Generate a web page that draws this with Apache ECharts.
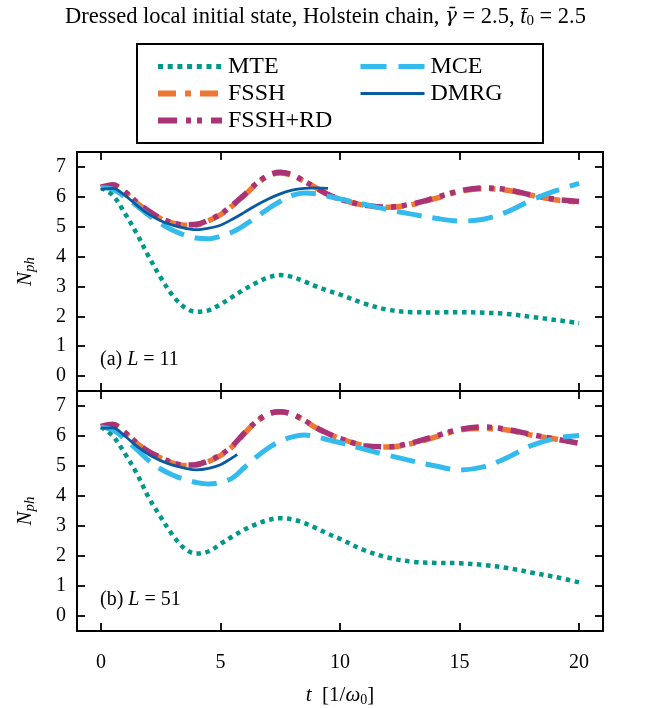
<!DOCTYPE html>
<html><head><meta charset="utf-8">
<script src="https://cdn.jsdelivr.net/npm/echarts@6/dist/echarts.min.js"></script>
<style>html,body{margin:0;padding:0;background:#fff}#c{width:646px;height:708px}</style>
</head><body><div id="c"></div><script>
// ---------- data ----------
const seriesNames = ['MTE', 'FSSH', 'FSSH+RD', 'MCE', 'DMRG'];
const xTickValues = [0, 5, 10, 15, 20];
const yTickValues = [0, 1, 2, 3, 4, 5, 6, 7];
const tFull = [0,0.5,1,1.5,2,2.5,3,3.5,4,4.5,5,5.5,6,6.5,7,7.5,8,8.5,9,9.5,10,11,12,13,14,15,16,17,18,19,20];
const tDmrgA = [0,0.5,1,1.5,2,2.5,3,3.5,4,4.5,5,5.5,6,6.5,7,7.5,8,8.5,9,9.5];
const tDmrgB = [0,0.5,1,1.5,2,2.5,3,3.5,4,4.5,5,5.5,5.7];

// panel (a) L = 11
const mteA    = [6.3,6.05,5.45,4.77,4.0,3.3,2.7,2.3,2.15,2.2,2.4,2.65,2.9,3.12,3.3,3.38,3.32,3.17,3.0,2.86,2.73,2.43,2.22,2.14,2.13,2.14,2.12,2.08,1.98,1.88,1.77];
const fsshA   = [6.3,6.37,6.15,5.8,5.5,5.27,5.12,5.05,5.06,5.2,5.4,5.7,6.05,6.42,6.7,6.8,6.72,6.52,6.3,6.08,5.92,5.72,5.65,5.74,5.95,6.18,6.27,6.22,6.05,5.9,5.82];
const fsshRdA = [6.32,6.4,6.17,5.82,5.52,5.28,5.13,5.06,5.08,5.22,5.42,5.72,6.07,6.44,6.72,6.82,6.74,6.53,6.3,6.08,5.92,5.72,5.66,5.76,5.97,6.2,6.3,6.24,6.06,5.92,5.84];
const mceA    = [6.3,6.25,6.0,5.7,5.38,5.1,4.88,4.72,4.62,4.6,4.68,4.82,5.05,5.32,5.6,5.85,6.05,6.13,6.1,6.02,5.93,5.75,5.57,5.42,5.28,5.19,5.25,5.5,5.89,6.2,6.45];
const dmrgA   = [6.25,6.28,6.05,5.72,5.42,5.2,5.05,4.95,4.9,4.95,5.05,5.25,5.48,5.72,5.93,6.1,6.22,6.28,6.3,6.28];

// panel (b) L = 51
const mteB    = [6.3,6.0,5.42,4.75,3.95,3.3,2.7,2.25,2.08,2.15,2.4,2.65,2.88,3.06,3.2,3.26,3.22,3.1,2.93,2.74,2.57,2.2,1.95,1.81,1.77,1.76,1.7,1.6,1.45,1.3,1.12];
const fsshB   = [6.3,6.37,6.1,5.75,5.47,5.27,5.1,5.02,5.03,5.15,5.35,5.65,6.08,6.47,6.73,6.8,6.72,6.52,6.27,6.08,5.92,5.68,5.63,5.75,5.97,6.2,6.25,6.2,6.03,5.9,5.78];
const fsshRdB = [6.32,6.39,6.12,5.77,5.48,5.28,5.11,5.03,5.05,5.17,5.37,5.67,6.1,6.48,6.74,6.81,6.73,6.53,6.28,6.08,5.92,5.68,5.64,5.77,6.0,6.22,6.3,6.22,6.05,5.9,5.76];
const mceB    = [6.3,6.2,5.9,5.55,5.18,4.9,4.7,4.55,4.45,4.4,4.45,4.6,4.95,5.3,5.6,5.83,5.97,6.03,5.98,5.87,5.78,5.56,5.36,5.17,5.0,4.87,4.97,5.28,5.68,5.92,6.02];
const dmrgB   = [6.26,6.27,6.0,5.66,5.38,5.18,5.03,4.93,4.87,4.92,5.04,5.28,5.39];

// ---------- styles ----------
const FONT = 'Liberation Serif';
const colors = {MTE:'#009988', FSSH:'#EE7733', 'FSSH+RD':'#AA3377', MCE:'#33BBEE', DMRG:'#0a5aa0'};
const lineStyles = {
  MTE: {width:4.5, type:[4.5,4.5], cap:'butt'},
  FSSH: {width:5.5, type:[18,8,6,8], cap:'butt'},
  'FSSH+RD': {width:5.5, type:[18,8,5,6,5,8], cap:'butt'},
  MCE: {width:5, type:[25,11], cap:'butt'},
  DMRG: {width:2.8, type:'solid'}
};
const legendLineStyles = {
  MTE: {width:5, type:[5,4.7], cap:'butt'},
  FSSH: {width:6, type:[18,9,6,9], cap:'butt'},
  'FSSH+RD': {width:6, type:[19,9,5,6,5,9], cap:'butt'},
  MCE: {width:5, type:[26,12], cap:'butt'},
  DMRG: {width:2.8, type:'solid'}
};

function pairs(ts, vs) { return ts.map((t, i) => [t, vs[i]]); }

const panelData = [
  {MTE: pairs(tFull, mteA), FSSH: pairs(tFull, fsshA), 'FSSH+RD': pairs(tFull, fsshRdA), MCE: pairs(tFull, mceA), DMRG: pairs(tDmrgA, dmrgA)},
  {MTE: pairs(tFull, mteB), FSSH: pairs(tFull, fsshB), 'FSSH+RD': pairs(tFull, fsshRdB), MCE: pairs(tFull, mceB), DMRG: pairs(tDmrgB, dmrgB)}
];

const grids = [
  {left: 77, top: 152, width: 526, height: 239},
  {left: 77, top: 391, width: 526, height: 241}
].map(g => Object.assign(g, {show: true, borderColor: '#000', borderWidth: 2, containLabel: false}));

const tickCommon = {show: true, inside: true, length: 8, lineStyle: {color: '#000', width: 1.8}};

const xAxes = [];
const yAxes = [];
[0, 1].forEach(gi => {
  ['bottom', 'top'].forEach(pos => {
    const showLabel = (gi === 1 && pos === 'bottom');
    const ax = {
      type: 'value', gridIndex: gi, position: pos, min: -1, max: 21,
      axisLine: {show: false, onZero: false}, splitLine: {show: false},
      axisTick: Object.assign({customValues: xTickValues}, tickCommon),
      axisLabel: {show: showLabel, customValues: xTickValues, margin: 22, fontFamily: FONT, fontSize: 20, color: '#000'}
    };
    if (showLabel) {
      ax.name = '{i|t}{r|  [1/}{i|ω}{s|0}{r|]}';
      ax.nameLocation = 'middle';
      ax.nameGap = 52;
      ax.nameTextStyle = {rich: {
        i: {fontFamily: FONT, fontStyle: 'italic', fontSize: 21, color: '#000'},
        r: {fontFamily: FONT, fontSize: 21, color: '#000'},
        s: {fontFamily: FONT, fontSize: 14, color: '#000', padding: [10, 0, 0, 0]}
      }};
    }
    xAxes.push(ax);
  });
  ['left', 'right'].forEach(pos => {
    const showLabel = pos === 'left';
    const ax = {
      type: 'value', gridIndex: gi, position: pos, min: -0.5, max: 7.5,
      axisLine: {show: false, onZero: false}, splitLine: {show: false},
      axisTick: Object.assign({customValues: yTickValues}, tickCommon),
      axisLabel: {show: showLabel, customValues: yTickValues, margin: 11, fontFamily: FONT, fontSize: 20, color: '#000'}
    };
    if (showLabel) {
      ax.name = '{i|N}{s|ph}';
      ax.nameLocation = 'middle';
      ax.nameGap = 39;
      ax.nameTextStyle = {rich: {
        i: {fontFamily: FONT, fontStyle: 'italic', fontSize: 21, color: '#000'},
        s: {fontFamily: FONT, fontStyle: 'italic', fontSize: 15, color: '#000', padding: [10, 0, 0, 0]}
      }};
    }
    yAxes.push(ax);
  });
});

const series = [];
[0, 1].forEach(gi => {
  seriesNames.forEach(name => {
    series.push({
      name: name, type: 'line', xAxisIndex: gi * 2, yAxisIndex: gi * 2,
      data: panelData[gi][name], smooth: 0.35, symbol: 'none', showSymbol: false,
      color: colors[name],
      lineStyle: Object.assign({color: colors[name]}, lineStyles[name]),
      animation: false, silent: true
    });
  });
});

function legendItems(names) {
  return names.map(n => ({name: n, itemStyle: {opacity: 0}, lineStyle: Object.assign({color: colors[n]}, legendLineStyles[n])}));
}
const legendText = {fontFamily: FONT, fontSize: 24, color: '#000', lineHeight: 27, padding: [0, 0, 0, 1]};
const option = {
  backgroundColor: '#fff',
  animation: false,
  title: {
    text: '{r|Dressed local initial state, Holstein chain, }{g|γ̄}{r| = 2.5, }{i|t̄}{s|0}{r| = 2.5}',
    left: 60, top: 0,
    textStyle: {rich: {
      r: {fontFamily: FONT, fontWeight: 'normal', fontSize: 22.5, color: '#000'},
      g: {fontFamily: 'DejaVu Serif', fontStyle: 'italic', fontWeight: 'normal', fontSize: 20, color: '#000'},
      i: {fontFamily: FONT, fontStyle: 'italic', fontWeight: 'normal', fontSize: 22.5, color: '#000'},
      s: {fontFamily: FONT, fontWeight: 'normal', fontSize: 15, color: '#000', padding: [9, 0, 0, 0]}
    }}
  },
  legend: [
    {data: legendItems(['MTE', 'FSSH', 'FSSH+RD']), orient: 'vertical', left: 150, top: 48, itemWidth: 64, itemHeight: 14, itemGap: 0, textStyle: legendText, selectedMode: false},
    {data: legendItems(['MCE', 'DMRG']), orient: 'vertical', left: 353, top: 48, itemWidth: 64, itemHeight: 14, itemGap: 0, textStyle: legendText, selectedMode: false}
  ],
  grid: grids,
  xAxis: xAxes,
  yAxis: yAxes,
  series: series,
  graphic: [
    {type: 'rect', shape: {x: 137, y: 44, width: 406, height: 99}, style: {fill: 'none', stroke: '#000', lineWidth: 2}, z: 10},
    {type: 'text', x: 100, y: 360, style: {text: '(a) {i|L} = 11', font: '20px "Liberation Serif"', fill: '#000', verticalAlign: 'middle',
      rich: {i: {fontFamily: FONT, fontStyle: 'italic', fontSize: 20, fill: '#000'}}}, z: 10},
    {type: 'text', x: 100, y: 600, style: {text: '(b) {i|L} = 51', font: '20px "Liberation Serif"', fill: '#000', verticalAlign: 'middle',
      rich: {i: {fontFamily: FONT, fontStyle: 'italic', fontSize: 20, fill: '#000'}}}, z: 10}
  ]
};

const chart = echarts.init(document.getElementById('c'), null, {renderer: 'canvas'});
chart.setOption(option);
</script></body></html>
